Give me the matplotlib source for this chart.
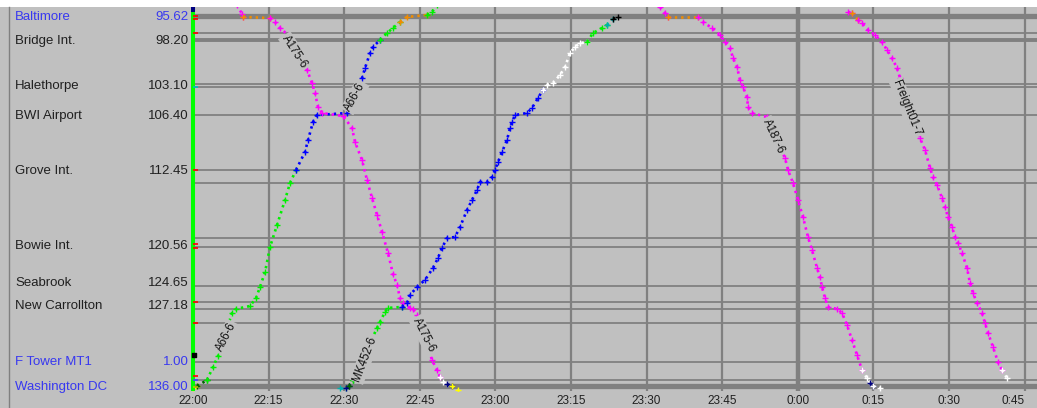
import numpy as np
import matplotlib.pyplot as plt
from matplotlib.lines import Line2D
from matplotlib.patches import Rectangle
from matplotlib.transforms import blended_transform_factory

plt.rcParams['font.family'] = ['Liberation Sans', 'DejaVu Sans']

# left panel: station names, milepost text, plotted position (mile)
stations = ["Baltimore", "Bridge Int.", "Halethorpe", "BWI Airport", "Grove Int.",
            "Bowie Int.", "Seabrook", "New Carrollton", "F Tower MT1", "Washington DC"]
milepost_text = ["95.62", "98.20", "103.10", "106.40", "112.45",
                 "120.56", "124.65", "127.18", "1.00", "136.00"]
station_pos = [95.62, 98.20, 103.10, 106.40, 112.45, 120.56, 124.65, 127.18, 133.27, 136.00]
station_blue = [True, False, False, False, False, False, False, False, True, True]

# block boundaries (miles)
block_lines = [97.42, 98.13, 102.93, 103.31, 106.32, 112.32, 113.74, 119.74, 120.72,
               124.98, 126.72, 127.48, 129.01, 133.27, 135.24]
heavy_lines = [95.53, 135.84]

# signal marks on the left bar (mile, colour)
signal_miles = [95.51, 95.84, 97.37, 103.26, 112.32, 120.39, 120.83, 126.72, 129.01, 134.8, 135.24, 136.0]
signal_cols = ['r', 'r', 'r', 'c', 'r', 'r', 'r', 'r', 'r', 'r', '#4040ff', 'y']

# x axis: minutes after 22:00
tick_minutes = list(range(0, 166, 15))

COLS = {'G': '#00f000', 'B': '#0000ff', 'M': '#ff00ff', 'O': '#f08c00', 'W': '#ffffff',
        'C': '#00b0b0', 'D': '#006400', 'Y': '#ffff00', 'N': '#000080', 'K': '#000000'}

# trains: (minutes after 22:00, mile, colour of leg arriving at this point)
a66 = [(0.00, 136.11, None), (0.79, 135.90, 'Y'), (2.78, 135.24, 'D'), (3.97, 133.82, 'G'),
       (4.96, 132.62, 'G'), (7.74, 127.92, 'G'), (8.53, 127.48, 'G'), (11.31, 127.16, 'G'),
       (12.50, 126.29, 'G'), (13.29, 125.09, 'G'), (14.29, 123.45, 'G'), (15.28, 120.72, 'G'),
       (16.67, 118.32, 'G'), (18.25, 115.59, 'G'), (19.25, 113.74, 'G'), (20.44, 112.32, 'G'),
       (22.22, 110.35, 'B'), (22.82, 109.04, 'B'), (23.81, 107.08, 'B'), (24.60, 106.32, 'B'),
       (30.56, 106.10, 'B'), (31.55, 105.01, 'B'), (33.53, 102.28, 'B'), (34.13, 101.19, 'B'),
       (35.12, 99.55, 'B'), (35.71, 98.89, 'B'), (37.10, 98.13, 'B'), (38.49, 97.37, 'G'),
       (39.68, 96.82, 'G'), (41.07, 96.17, 'G'), (42.46, 95.62, 'O'), (46.43, 95.40, 'O'),
       (47.42, 95.07, 'G'), (48.41, 94.31, 'G'), (49.01, 93.87, 'G')]

a175 = [(8.73, 94.31, None), (9.72, 95.29, 'M'), (9.92, 95.62, 'M'), (15.28, 95.73, 'O'),
        (16.27, 96.17, 'M'), (17.26, 96.82, 'M'), (18.85, 97.58, 'M'), (20.44, 99.44, 'M'),
        (22.62, 101.40, 'M'), (23.61, 102.82, 'M'), (24.21, 103.91, 'M'), (24.80, 105.44, 'M'),
        (25.60, 106.10, 'M'), (29.76, 106.42, 'M'), (31.55, 107.73, 'M'), (32.14, 109.26, 'M'),
        (33.53, 111.23, 'M'), (34.52, 113.41, 'M'), (35.52, 115.37, 'M'), (36.51, 117.23, 'M'),
        (37.50, 119.08, 'M'), (38.69, 121.38, 'M'), (39.68, 123.67, 'M'), (40.48, 124.87, 'M'),
        (41.07, 126.29, 'M'), (41.67, 126.83, 'M'), (43.06, 127.37, 'M'), (43.65, 127.48, 'M'),
        (44.44, 128.13, 'M'), (45.83, 130.32, 'M'), (47.42, 133.05, 'M'), (48.41, 134.15, 'M'),
        (49.01, 134.91, 'M'), (49.60, 135.45, 'W'), (50.40, 135.68, 'W'), (51.39, 135.90, 'N'),
        (52.58, 136.33, 'Y')]

mk452 = [(29.17, 136.11, None), (30.36, 136.11, 'C'), (30.95, 135.90, 'N'), (31.75, 135.24, 'D'),
         (36.51, 129.56, 'G'), (37.10, 128.91, 'G'), (38.10, 127.80, 'G'), (38.69, 127.37, 'G'),
         (41.47, 127.26, 'G'), (42.46, 126.83, 'B'), (43.06, 125.96, 'B'), (44.44, 125.09, 'B'),
         (46.03, 124.32, 'B'), (47.62, 123.01, 'B'), (48.61, 121.92, 'B'), (49.40, 120.83, 'B'),
         (50.40, 119.74, 'B'), (51.98, 119.63, 'B'), (52.98, 118.54, 'B'), (54.37, 116.68, 'B'),
         (55.36, 115.59, 'B'), (56.35, 114.50, 'B'), (56.94, 113.63, 'B'), (58.33, 113.63, 'B'),
         (59.33, 113.08, 'B'), (59.92, 112.32, 'B'), (60.52, 111.44, 'B'), (61.31, 110.35, 'B'),
         (62.30, 109.04, 'B'), (62.90, 107.73, 'B'), (63.29, 107.08, 'B'), (63.89, 106.32, 'B'),
         (66.27, 106.10, 'B'), (67.26, 105.55, 'B'), (68.45, 104.46, 'B'), (69.44, 103.59, 'B'),
         (70.24, 103.04, 'W'), (71.43, 102.82, 'W'), (72.82, 101.95, 'W'), (73.81, 101.08, 'W'),
         (74.80, 99.55, 'W'), (75.79, 98.89, 'W'), (76.79, 98.46, 'W'), (78.17, 98.35, 'W'),
         (79.37, 97.37, 'G'), (81.15, 96.82, 'G'), (82.14, 96.49, 'G'), (83.33, 95.84, 'C'),
         (84.33, 95.62, 'K')]

a187 = [(92.66, 94.53, None), (93.65, 95.18, 'M'), (94.25, 95.62, 'M'), (100.20, 95.62, 'O'),
        (101.19, 96.17, 'M'), (102.98, 96.82, 'M'), (104.56, 97.58, 'M'), (105.56, 98.35, 'M'),
        (106.55, 99.00, 'M'), (107.14, 100.09, 'M'), (107.94, 101.08, 'M'), (108.53, 102.50, 'M'),
        (109.13, 103.26, 'M'), (109.92, 104.35, 'M'), (110.12, 105.44, 'M'), (110.91, 106.10, 'M'),
        (113.89, 106.53, 'M'), (115.28, 108.50, 'M'), (117.46, 111.01, 'M'), (118.06, 112.32, 'M'),
        (119.05, 113.74, 'M'), (120.04, 115.59, 'M'), (121.03, 117.45, 'M'), (122.02, 119.63, 'M'),
        (122.82, 121.05, 'M'), (123.81, 123.01, 'M'), (124.40, 124.00, 'M'), (124.80, 125.09, 'M'),
        (125.40, 126.29, 'M'), (125.99, 127.26, 'M'), (127.78, 127.48, 'M'), (128.77, 127.91, 'M'),
        (129.76, 129.23, 'M'), (130.75, 130.87, 'M'), (131.75, 132.51, 'M'), (132.74, 134.15, 'M'),
        (133.73, 135.02, 'W'), (134.33, 135.57, 'W'), (134.92, 135.90, 'N'), (136.31, 136.11, 'W')]

freight01 = [(129.96, 95.07, None), (130.75, 95.18, 'M'), (131.94, 95.95, 'O'), (132.74, 96.27, 'M'),
             (133.93, 97.04, 'M'), (135.32, 97.58, 'M'), (136.71, 98.35, 'M'), (137.70, 99.22, 'M'),
             (138.69, 100.09, 'M'), (139.68, 101.19, 'M'), (140.28, 102.28, 'M'), (141.67, 105.22, 'M'),
             (144.25, 108.83, 'M'), (145.24, 110.13, 'M'), (146.23, 112.10, 'M'), (146.83, 113.08, 'M'),
             (147.62, 113.95, 'M'), (148.61, 115.37, 'M'), (149.21, 116.36, 'M'), (149.80, 117.45, 'M'),
             (150.60, 118.54, 'M'), (151.19, 119.63, 'M'), (151.79, 120.28, 'M'), (152.58, 121.38, 'M'),
             (153.57, 123.01, 'M'), (154.17, 124.65, 'M'), (154.76, 125.74, 'M'), (155.56, 126.83, 'M'),
             (156.55, 127.92, 'M'), (157.14, 129.01, 'M'), (157.74, 130.11, 'M'), (158.73, 131.63, 'M'),
             (159.72, 133.27, 'M'), (160.52, 134.15, 'M'), (161.51, 135.02, 'W')]

trains = [a66, a175, mk452, a187, freight01]

# train id labels: text, minutes, mile, angle
label_text = ["A66-6", "A66-6", "A175-6", "A175-6", "MK452-6", "A187-6", "Freight01-7"]
label_t = [6.55, 32.14, 20.24, 45.83, 34.13, 115.08, 141.67]
label_m = [130.54, 104.35, 99.44, 130.32, 132.94, 108.61, 105.55]
label_rot = [63, 61, -57, -63, 69, -65, -68]

BG = '#c0c0c0'
GRID = '#808080'
W, H = 1037, 408

fig = plt.figure(figsize=(W / 100, H / 100), dpi=100, facecolor=BG)
ax = fig.add_axes([191 / W, 1 - 391 / H, (W - 191) / W, 384 / H])
ax.set_facecolor(BG)
for s in ax.spines.values():
    s.set_visible(False)

ax.set_xlim(-0.4, (W - 193) / 5.04)
ax.set_ylim(95.62 + 374 / 9.163, 95.62 - 10 / 9.163)

# grid
for t in tick_minutes:
    ax.axvline(t, color=GRID, lw=3.2 if t == 120 else 1.6, zorder=1)
for m in block_lines:
    ax.axhline(m, color=GRID, lw=1.3, zorder=1)
ax.axhline(98.13, color=GRID, lw=2.8, zorder=1)
for m in heavy_lines:
    ax.axhline(m, color=GRID, lw=3.8, zorder=1)

# trains
for tr in trains:
    ts = [p[0] for p in tr]
    ms = [p[1] for p in tr]
    cs = [p[2] for p in tr]
    i = 1
    while i < len(tr):
        j = i
        while j + 1 < len(tr) and cs[j + 1] == cs[i]:
            j += 1
        col = COLS[cs[i]]
        ax.plot(ts[i - 1:j + 1], ms[i - 1:j + 1], color=col, lw=1.9,
                linestyle=(0, (0.9, 1.5)), marker='+', ms=3.8, mew=1.0, zorder=3)
        i = j + 1

for txt, t, m, r in zip(label_text, label_t, label_m, label_rot):
    ax.text(t, m, txt, rotation=r, rotation_mode='anchor', ha='center', va='center',
            fontsize=8.3, color='#101010', zorder=6,
            bbox=dict(fc=BG, ec='none', pad=1.0))

# occupancy bar at the left edge
ax.axvline(0, color='#00ff00', lw=2.9, zorder=4)
ax.plot([0, 0], [94.5, 95.07], color='#000080', lw=2.9, zorder=4, solid_capstyle='butt')
ax.scatter([0.5] * len(signal_miles), signal_miles, c=signal_cols, marker='_', s=12,
           linewidths=1.2, zorder=5, clip_on=False)
ax.scatter([0.1], [132.51], c='k', marker='s', s=10, zorder=5)

# x ticks
xlabels = []
for k in tick_minutes:
    tot = 22 * 60 + k
    xlabels.append(f"{(tot // 60) % 24}:{tot % 60:02d}")
ax.set_xticks(tick_minutes)
ax.set_xticklabels(xlabels, fontsize=8.5, color='#202020')
ax.tick_params(axis='x', length=0, pad=3)
ax.set_yticks([])
# keep the last label inside the figure
ax.get_xticklabels()[-1].set_horizontalalignment('right')

# station names + mileposts
tr_lbl = blended_transform_factory(fig.transFigure, ax.transData)
for name, mp, pos, blue in zip(stations, milepost_text, station_pos, station_blue):
    col = '#3838f0' if blue else '#202020'
    ax.text(15 / W, pos, name, transform=tr_lbl, ha='left', va='center', fontsize=9.5, color=col)
    ax.text(189 / W, pos, mp, transform=tr_lbl, ha='right', va='center', fontsize=9.5, color=col)

fig.add_artist(Line2D([8.5 / W, 8.5 / W], [0, 1 - 7 / H], transform=fig.transFigure,
                      color='#808080', lw=1))
fig.add_artist(Rectangle((0, 1 - 6.5 / H), 1, 6.5 / H, transform=fig.transFigure,
                         fc='white', ec='none'))

fig.savefig('out.png', dpi=100, facecolor=BG)
